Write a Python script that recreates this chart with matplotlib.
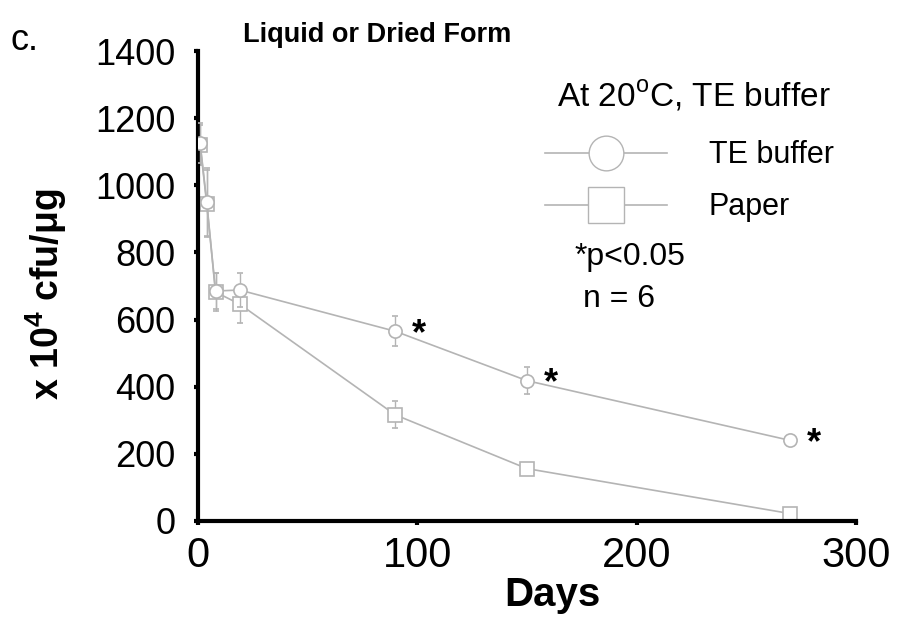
import matplotlib.pyplot as plt
from matplotlib.lines import Line2D

plt.rcParams['font.family'] = ['Liberation Sans', 'DejaVu Sans']
plt.rcParams['mathtext.fontset'] = 'custom'
plt.rcParams['mathtext.rm'] = 'Liberation Sans'
plt.rcParams['mathtext.bf'] = 'Liberation Sans:bold'

days = [1, 4, 8, 19, 90, 150, 270]
te_buffer = [1125, 950, 685, 688, 565, 418, 240]
te_err = [60, 100, 55, 50, 45, 40, 10]
paper = [1120, 945, 682, 646, 316, 156, 22]
paper_err = [60, 100, 57, 55, 40, 12, 8]
star_days = [90, 150, 270]
star_vals = [565, 418, 240]

gray = '#b4b4b4'

fig = plt.figure(figsize=(9.06, 6.22), dpi=100)
ax = fig.add_axes([0.2185, 0.1624, 0.7263, 0.7556])

ax.errorbar(days, te_buffer, yerr=te_err, color=gray, marker='o', ms=9.5,
            mfc='white', mec=gray, mew=1.2, lw=1.2, capsize=2, elinewidth=1,
            zorder=3)
ax.errorbar(days, paper, yerr=paper_err, color=gray, marker='s', ms=9.5,
            mfc='white', mec=gray, mew=1.2, lw=1.2, capsize=2, elinewidth=1,
            zorder=2)

# significance marks next to the TE buffer points
for d, v in zip(star_days, star_vals):
    ax.annotate('*', (d, v), xytext=(12, -9), textcoords='offset points',
                fontsize=26, fontweight='bold', ha='left', va='baseline')

ax.set_xlim(0, 300)
ax.set_ylim(0, 1400)
ax.set_xticks([0, 100, 200, 300])
ax.set_yticks(range(0, 1401, 200))
ax.spines['top'].set_visible(False)
ax.spines['right'].set_visible(False)
ax.spines['left'].set_linewidth(3)
ax.spines['bottom'].set_linewidth(3)
ax.tick_params(length=3, width=3)
ax.tick_params(axis='x', labelsize=30, pad=8)
ax.tick_params(axis='y', labelsize=26, pad=13)

ax.set_xlabel('Days', fontsize=29, fontweight='bold')
ax.xaxis.set_label_coords(0.538, -0.117)
ax.set_ylabel('x 10$^\\mathbf{4}$ cfu/\u03bcg', fontsize=27, fontweight='bold')
ax.yaxis.set_label_coords(-0.196, 0.483)
ax.text(0.068, 1.0 + (51 - 42) / 470, 'Liquid or Dried Form', transform=ax.transAxes,
        fontsize=19.5, fontweight='bold', va='baseline')

handles = [
    Line2D([], [], color=gray, lw=1.2, marker='o', ms=25, mfc='white', mec=gray),
    Line2D([], [], color=gray, lw=1.2, marker='s', ms=26, mfc='white', mec=gray),
]
ax.legend(handles, ['TE buffer', 'Paper'],
          loc='upper left', bbox_to_anchor=(0.527, 0.81), frameon=False,
          borderpad=0, borderaxespad=0, fontsize=22,
          handlelength=4.0, handletextpad=1.37, labelspacing=0.72)
ax.text(0.546, 0.883, 'At 20$^{\\mathrm{o}}$C, TE buffer', transform=ax.transAxes,
        fontsize=24, va='baseline')

ax.text(0.573, 0.545, '*p<0.05', transform=ax.transAxes, fontsize=23, va='baseline')
ax.text(0.585, 0.455, 'n = 6', transform=ax.transAxes, fontsize=23, va='baseline')
fig.text(10 / 906, 1 - 50 / 622, 'c.', fontsize=26, va='baseline')

fig.savefig('out.png', dpi=100)
